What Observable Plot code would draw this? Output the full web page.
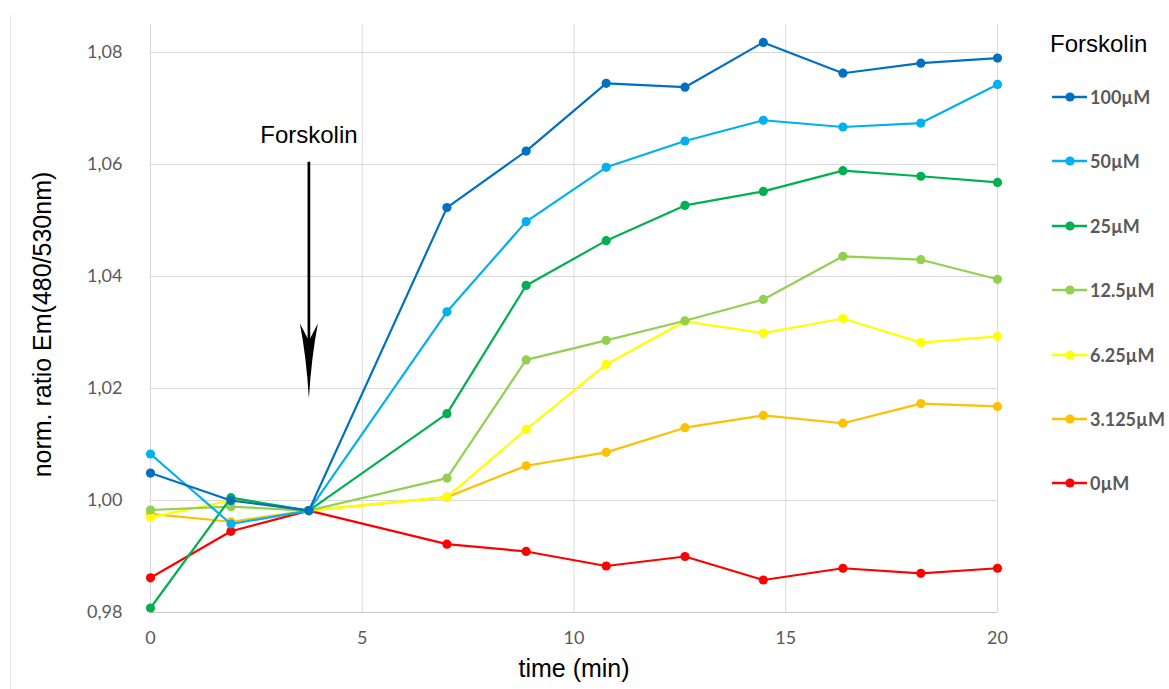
<!DOCTYPE html>
<html><head><meta charset="utf-8">
<script src="https://cdn.jsdelivr.net/npm/d3@7"></script>
<script src="https://cdn.jsdelivr.net/npm/@observablehq/plot@0.6"></script>
<style>
body{margin:0;background:#fff;}
#wrap{position:relative;width:1169px;height:689px;overflow:hidden;background:#fff;}
#frame{position:absolute;left:10px;top:15px;height:680px;border-left:1px solid #e4e4e4;}
#chart{position:absolute;left:0;top:0;}
#legend{position:absolute;left:0;top:0;width:1169px;height:689px;pointer-events:none;}
.ltitle{position:absolute;left:1050px;font:24px "Liberation Sans",Arial,sans-serif;color:#000;transform:translateY(-50%);}
.litem{position:absolute;left:1051px;display:flex;align-items:center;transform:translateY(-50%);}
.litem span{font:bold 18px Lato,"Liberation Sans",sans-serif;color:#595959;margin-left:2px;}
</style></head>
<body><div id="wrap"><div id="frame"></div><div id="chart"></div><div id="legend"></div></div>
<script>
// ---- data ----
const times = [0, 1.9, 3.74, 7.0, 8.87, 10.76, 12.62, 14.47, 16.35, 18.19, 20.0];
const seriesNames = ["100µM", "50µM", "25µM", "12.5µM", "6.25µM", "3.125µM", "0µM"];
const seriesColors = ["#0070C0", "#00B0F0", "#00B050", "#92D050", "#FFFF00", "#FFC000", "#FF0000"];
const v100   = [1.0049, 1.0000, 0.9982, 1.0523, 1.0624, 1.0745, 1.0738, 1.0818, 1.0763, 1.0781, 1.0790];
const v50    = [1.0083, 0.9958, 0.9982, 1.0337, 1.0498, 1.0595, 1.0642, 1.0679, 1.0667, 1.0674, 1.0743];
const v25    = [0.9808, 1.0005, 0.9982, 1.0155, 1.0384, 1.0464, 1.0527, 1.0552, 1.0589, 1.0579, 1.0568];
const v12_5  = [0.9983, 0.9989, 0.9982, 1.0040, 1.0251, 1.0286, 1.0321, 1.0359, 1.0436, 1.0430, 1.0395];
const v6_25  = [0.9970, 1.0000, 0.9982, 1.0006, 1.0127, 1.0243, 1.0320, 1.0299, 1.0325, 1.0282, 1.0293];
const v3_125 = [0.9976, 0.9962, 0.9982, 1.0006, 1.0062, 1.0086, 1.0130, 1.0152, 1.0138, 1.0173, 1.0168];
const v0     = [0.9862, 0.9945, 0.9982, 0.9922, 0.9909, 0.9883, 0.9900, 0.9858, 0.9879, 0.9870, 0.9879];
const xTicks = [0, 5, 10, 15, 20];
const yTicks = [0.98, 1.00, 1.02, 1.04, 1.06, 1.08];
const xTitle = "time (min)";
const yTitle = "norm. ratio Em(480/530nm)";
const legendTitle = "Forskolin";
const annotationText = "Forskolin";
const arrowTime = 3.74;
const arrowTop = 1.0604;
const arrowTip = 1.0182;
const annotationY = 1.0652;

const seriesValues = [v100, v50, v25, v12_5, v6_25, v3_125, v0];

// ---- build ----
const FONT = "Lato, 'Liberation Sans', sans-serif";
const TITLEFONT = "'Liberation Sans', Arial, sans-serif";
const lineMarks = [];
for (let i = seriesNames.length - 1; i >= 0; i--) {
  const data = times.map((t, j) => ({t, v: seriesValues[i][j], s: seriesNames[i]}));
  lineMarks.push(Plot.line(data, {x: "t", y: "v", stroke: seriesColors[i], strokeWidth: 2.2}));
  lineMarks.push(Plot.dot(data, {x: "t", y: "v", fill: seriesColors[i], r: 4.6, stroke: "none"}));
}

// notched (stealth-like) arrowhead, drawn from back (0) to tip (-l)
const headShape = {
  draw(context, l) {
    context.moveTo(0, -l);
    context.quadraticCurveTo(2.5, -l * 0.45, 9, 0);
    context.lineTo(0, -l * 0.23);
    context.lineTo(-9, 0);
    context.quadraticCurveTo(-2.5, -l * 0.45, 0, -l);
    context.closePath();
  }
};

const fmtY = d => d3.format(".2f")(d).replace(".", ",");

const chart = Plot.plot({
  width: 1169,
  height: 689,
  marginLeft: 150,
  marginRight: 172,
  marginTop: 24,
  marginBottom: 77,
  style: {fontFamily: FONT, fontSize: "18px", color: "#595959", background: "transparent", overflow: "visible"},
  x: {domain: [0, 20], ticks: xTicks, tickSize: 0, tickPadding: 19, label: null, tickFormat: d => String(d)},
  y: {domain: [0.98, 1.085], ticks: yTicks, tickSize: 0, tickPadding: 28, label: null, tickFormat: fmtY},
  marks: [
    Plot.ruleX(xTicks, {stroke: "#d9d9d9", strokeWidth: 1}),
    Plot.ruleY(yTicks, {stroke: "#d9d9d9", strokeWidth: 1}),
    Plot.ruleY([yTicks[0]], {stroke: "#c8c8c8", strokeWidth: 1}),
    ...lineMarks,
    Plot.ruleX([arrowTime], {y1: arrowTop, y2: arrowTip + 0.008, stroke: "#000", strokeWidth: 2.7}),
    Plot.vector([arrowTime], {x: d => d, y: arrowTip, length: 75, rotate: 180, anchor: "end", shape: headShape, fill: "#000", stroke: "none"}),
    Plot.text([annotationText], {x: arrowTime, y: annotationY, text: d => d, fill: "#000", fontSize: 24, fontFamily: TITLEFONT}),
    Plot.text([xTitle], {frameAnchor: "bottom", dy: 64, text: d => d, fill: "#000", fontSize: 25, fontFamily: TITLEFONT}),
    Plot.text([yTitle], {frameAnchor: "left", dx: -108, dy: 6, rotate: -90, textAnchor: "middle", text: d => d, fill: "#000", fontSize: 25, fontFamily: TITLEFONT})
  ]
});
document.getElementById("chart").appendChild(chart);

// ---- legend (HTML, right side) ----
const legend = document.getElementById("legend");
const t = document.createElement("div");
t.className = "ltitle"; t.style.top = "44px"; t.textContent = legendTitle;
legend.appendChild(t);
seriesNames.forEach((name, i) => {
  const row = document.createElement("div");
  row.className = "litem";
  row.style.top = (97 + i * 64.4) + "px";
  row.innerHTML = `<svg width="37" height="12"><line x1="1" y1="6" x2="36" y2="6" stroke="${seriesColors[i]}" stroke-width="2.4"/><circle cx="19" cy="6" r="4.6" fill="${seriesColors[i]}"/></svg><span>${name}</span>`;
  legend.appendChild(row);
});
</script>
</body></html>
